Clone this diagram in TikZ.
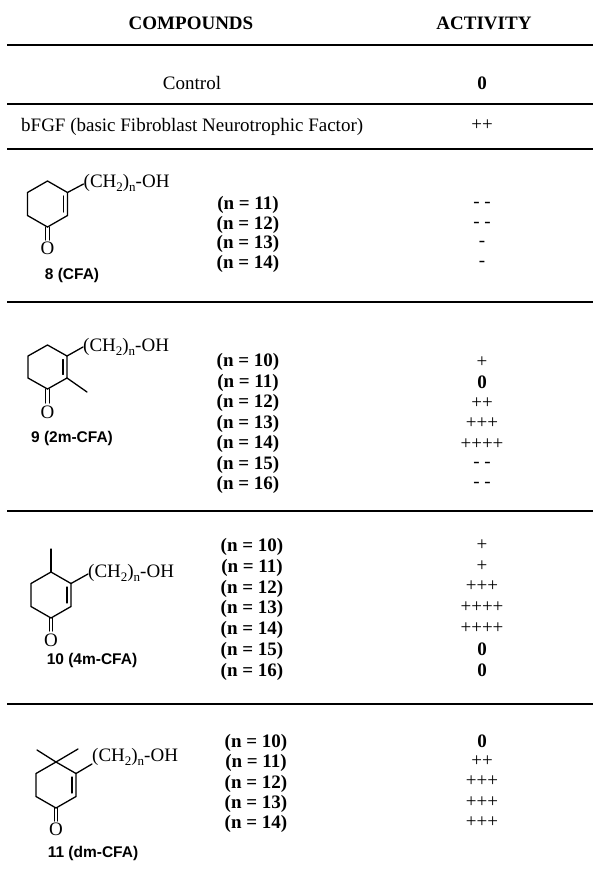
\documentclass[tikz,border=0pt]{standalone}
\usepackage{fontspec}
\setmainfont{Liberation Serif}
\newfontfamily\lsans{Liberation Sans}
\newcommand{\lowtxt}[1]{\raisebox{-0.45ex}{\fontsize{13}{13}\selectfont #1}}
\begin{document}
\begin{tikzpicture}[x={(1pt,0)},y={(0,-1pt)},
  rulex/.style={line width=1.7pt},
  bond/.style={line width=1.3pt,line cap=round},
  hdr/.style={font=\fontsize{19}{20}\selectfont\bfseries},
  plain/.style={font=\fontsize{19}{20}\selectfont},
  nlab/.style={font=\fontsize{19}{20}\selectfont\bfseries,inner sep=0},
  act/.style={font=\fontsize{19}{20}\selectfont,inner sep=0},
  actb/.style={font=\fontsize{19}{20}\selectfont\bfseries,inner sep=0},
  cname/.style={font=\lsans\fontsize{15.5}{16}\selectfont\bfseries,inner sep=0},
  chain/.style={font=\fontsize{19}{20}\selectfont,inner sep=0,anchor=west},
  oxy/.style={font=\fontsize{19}{20}\selectfont,inner sep=0}]
\useasboundingbox (0,0) rectangle (602,871);
% header
\node[hdr] (hc) at (191,23) {COMPOUNDS};
\node[hdr] (ha) at (484,23) {ACTIVITY};
\foreach \yy/\nm in {45/r1,104/r2,149/r3,302/r4,511/r5,704/r6}{
  \coordinate (\nm a) at (7,\yy); \coordinate (\nm b) at (593,\yy);
  \draw[rulex] (\nm a) -- (\nm b);}
\node[plain] (ctl) at (192,83) {Control};
\node[actb] (ctla) at (482,83) {0};
\node[plain,anchor=west,inner sep=0] (bf) at (21,127) {bFGF (basic Fibroblast Neurotrophic Factor)};
\node[act] (bfa) at (482,125) {++};
% ---- compound 8
\begin{scope}[shift={(47.5,204)}]
  \coordinate (T) at (0,-23); \coordinate (UR) at (20,-11.5); \coordinate (LR) at (20,11.5);
  \coordinate (B) at (0,23); \coordinate (LL) at (-20,11.5); \coordinate (UL) at (-20,-11.5);
  \draw[bond] (T)--(UR)--(LR)--(B)--(LL)--(UL)--cycle;
  \coordinate (d1) at (16,-8); \coordinate (d2) at (16,8); \draw[bond] (d1)--(d2);
  \coordinate (o1) at (-1.7,23); \coordinate (o2) at (-1.7,36);
  \coordinate (o3) at (1.7,23); \coordinate (o4) at (1.7,36);
  \draw[bond] (o1)--(o2); \draw[bond] (o3)--(o4);
  \node[oxy] (O8) at (0,44) {O};
  \coordinate (ce) at (36,-20); \draw[bond] (UR)--(ce);
  \node[chain] (ch8) at (36,-21) {(CH\lowtxt{2})\lowtxt{n}-OH};
\end{scope}
\node[cname] (c8) at (72,275) {8 (CFA)};
\foreach \t/\a [count=\i from 0] in {11/- -,12/- -,13/-,14/-}{
  \node[nlab] (n8\i) at (248,205+19.5*\i) {(n = \t)};
  \node[act] (a8\i) at (482,205+19.5*\i) {\a};}
% ---- compound 9
\begin{scope}[shift={(47.5,367)}]
  \coordinate (T) at (0,-22); \coordinate (UR) at (19.5,-11); \coordinate (LR) at (19.5,11);
  \coordinate (B) at (0,22); \coordinate (LL) at (-19.5,11); \coordinate (UL) at (-19.5,-11);
  \draw[bond] (T)--(UR)--(LR)--(B)--(LL)--(UL)--cycle;
  \coordinate (d1) at (15.5,-7.5); \coordinate (d2) at (15.5,7.5); \draw[bond] (d1)--(d2);
  \coordinate (me) at (39.5,25); \draw[bond] (LR)--(me);
  \coordinate (o1) at (-1.7,22); \coordinate (o2) at (-1.7,36);
  \coordinate (o3) at (1.7,22); \coordinate (o4) at (1.7,36);
  \draw[bond] (o1)--(o2); \draw[bond] (o3)--(o4);
  \node[oxy] (O9) at (0,45) {O};
  \coordinate (ce) at (35.5,-20); \draw[bond] (UR)--(ce);
  \node[chain] (ch9) at (35.5,-20) {(CH\lowtxt{2})\lowtxt{n}-OH};
\end{scope}
\node[cname] (c9) at (72,438) {9 (2m-CFA)};
\foreach \t/\a/\s [count=\i from 0] in {10/+/act,11/0/actb,12/++/act,13/+++/act,14/++++/act,15/- -/act,16/- -/act}{
  \node[nlab] (n9\i) at (248,362+20.5*\i) {(n = \t)};
  \node[\s] (a9\i) at (482,362+20.5*\i) {\a};}
% ---- compound 10
\begin{scope}[shift={(51,595)}]
  \coordinate (T) at (0,-23); \coordinate (UR) at (20,-11.5); \coordinate (LR) at (20,11.5);
  \coordinate (B) at (0,23); \coordinate (LL) at (-20,11.5); \coordinate (UL) at (-20,-11.5);
  \draw[bond] (T)--(UR)--(LR)--(B)--(LL)--(UL)--cycle;
  \coordinate (d1) at (16,-8); \coordinate (d2) at (16,8); \draw[bond] (d1)--(d2);
  \coordinate (me) at (0,-46); \draw[bond] (T)--(me);
  \coordinate (o1) at (-1.7,23); \coordinate (o2) at (-1.7,36);
  \coordinate (o3) at (1.7,23); \coordinate (o4) at (1.7,36);
  \draw[bond] (o1)--(o2); \draw[bond] (o3)--(o4);
  \node[oxy] (O10) at (0,45) {O};
  \coordinate (ce) at (37,-21); \draw[bond] (UR)--(ce);
  \node[chain] (ch10) at (37,-22) {(CH\lowtxt{2})\lowtxt{n}-OH};
\end{scope}
\node[cname] (c10) at (92,660) {10 (4m-CFA)};
\foreach \t/\a/\s [count=\i from 0] in {10/+/act,11/+/act,12/+++/act,13/++++/act,14/++++/act,15/0/actb,16/0/actb}{
  \node[nlab] (n10\i) at (252,547+20.8*\i) {(n = \t)};
  \node[\s] (a10\i) at (482,545+20.8*\i) {\a};}
% ---- compound 11
\begin{scope}[shift={(56,785)}]
  \coordinate (T) at (0,-23); \coordinate (UR) at (20,-11.5); \coordinate (LR) at (20,11.5);
  \coordinate (B) at (0,23); \coordinate (LL) at (-20,11.5); \coordinate (UL) at (-20,-11.5);
  \draw[bond] (T)--(UR)--(LR)--(B)--(LL)--(UL)--cycle;
  \coordinate (d1) at (16,-8); \coordinate (d2) at (16,8); \draw[bond] (d1)--(d2);
  \coordinate (m1) at (-19,-35); \coordinate (m2) at (22,-36);
  \draw[bond] (T)--(m1); \draw[bond] (T)--(m2);
  \coordinate (o1) at (-1.7,23); \coordinate (o2) at (-1.7,36);
  \coordinate (o3) at (1.7,23); \coordinate (o4) at (1.7,36);
  \draw[bond] (o1)--(o2); \draw[bond] (o3)--(o4);
  \node[oxy] (O11) at (0,44) {O};
  \coordinate (ce) at (36,-21); \draw[bond] (UR)--(ce);
  \node[chain] (ch11) at (36,-28) {(CH\lowtxt{2})\lowtxt{n}-OH};
\end{scope}
\node[cname] (c11) at (93,853) {11 (dm-CFA)};
\foreach \t/\a/\s [count=\i from 0] in {10/0/actb,11/++/act,12/+++/act,13/+++/act,14/+++/act}{
  \node[nlab] (n11\i) at (256,743+20.3*\i) {(n = \t)};
  \node[\s] (a11\i) at (482,741+20.3*\i) {\a};}
\end{tikzpicture}
\end{document}
